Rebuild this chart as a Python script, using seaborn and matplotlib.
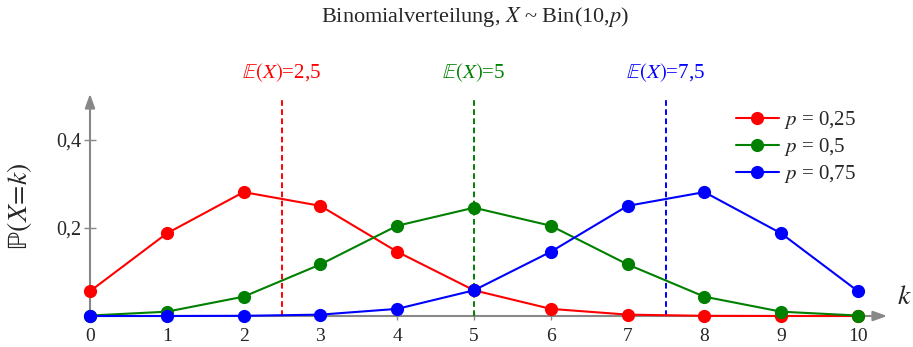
import matplotlib
matplotlib.use("Agg")
import matplotlib.pyplot as plt
import seaborn as sns
import pandas as pd

# Binomial probabilities P(X=k) for n = 10
k_values = [0, 1, 2, 3, 4, 5, 6, 7, 8, 9, 10]
p_025 = [0.0563, 0.1877, 0.2816, 0.2503, 0.1460, 0.0584, 0.0162, 0.0031, 0.0004, 0.0000, 0.0000]
p_050 = [0.0010, 0.0098, 0.0439, 0.1172, 0.2051, 0.2461, 0.2051, 0.1172, 0.0439, 0.0098, 0.0010]
p_075 = [0.0000, 0.0000, 0.0004, 0.0031, 0.0162, 0.0584, 0.1460, 0.2503, 0.2816, 0.1877, 0.0563]
series_labels = [r"$p$ = 0,25", r"$p$ = 0,5", r"$p$ = 0,75"]
expectations = [2.5, 5.0, 7.5]
expectation_labels = [r"$\mathbb{E}(X)$=2,5", r"$\mathbb{E}(X)$=5", r"$\mathbb{E}(X)$=7,5"]
y_ticks = [0.2, 0.4]
y_tick_labels = ["0,2", "0,4"]
colors = ["#ff0000", "#008000", "#0000ff"]

sns.set_theme(style="white")
plt.rcParams["font.family"] = ["Liberation Serif", "DejaVu Serif"]
plt.rcParams["mathtext.fontset"] = "stix"

df = pd.concat(
    [pd.DataFrame({"k": k_values, "prob": vals, "series": lab})
     for vals, lab in zip([p_025, p_050, p_075], series_labels)],
    ignore_index=True,
)

fig = plt.figure(figsize=(9.13, 3.47), dpi=100)
ax = fig.add_axes([0.07334, 0.02594, 0.91689, 0.7228])
xmin, xmax, ymin, ymax = -0.3, 10.6, -0.05, 0.52

# expectation markers
for ex, lab, c in zip(expectations, expectation_labels, colors):
    ax.plot([ex, ex], [0, 0.498], color=c, lw=1.4, ls=(0, (2.9, 1.8)), zorder=1)
    ax.text(ex, 0.552, lab, color=c, ha="center", va="center", fontsize=15)

# axes with arrow heads
axis_grey = "#888888"
ax.annotate("", xy=(10.38, 0), xytext=(0, 0),
            arrowprops=dict(arrowstyle="-|>,head_length=0.7,head_width=0.25",
                            color=axis_grey, lw=1.5, shrinkA=0, shrinkB=0), zorder=0.5)
ax.annotate("", xy=(0, 0.505), xytext=(0, 0),
            arrowprops=dict(arrowstyle="-|>,head_length=0.7,head_width=0.25",
                            color=axis_grey, lw=1.5, shrinkA=0, shrinkB=0), zorder=0.5)

sns.lineplot(data=df, x="k", y="prob", hue="series", hue_order=series_labels,
             palette=colors, marker="o", markersize=9.5, markeredgewidth=0,
             linewidth=1.5, ax=ax, zorder=3)

ax.set_xlim(xmin, xmax)
ax.set_ylim(ymin, ymax)
for s in ax.spines.values():
    s.set_visible(False)
ax.spines["left"].set_position(("data", 0))
ax.spines["bottom"].set_position(("data", 0))

ax.set_xticks(k_values)
ax.set_xticklabels([str(v) for v in k_values], fontsize=14)
ax.set_yticks(y_ticks)
ax.set_yticklabels(y_tick_labels, fontsize=14.5)
ax.tick_params(axis="y", direction="inout", length=8.5, width=1.0, color=axis_grey, pad=1.8, left=True)
ax.tick_params(axis="x", direction="inout", length=6, width=1.0, color=axis_grey, pad=5.5, bottom=True)

ax.set_xlabel("")
ax.set_ylabel(r"$\mathrm{\mathbb{P}}(X\!=\!k)$", fontsize=20)
ax.yaxis.set_label_coords(-0.0395, 0.526)

ax.text(10.6, 0.042, r"$k$", fontsize=20, ha="center", va="center")

leg = ax.legend(loc="upper left", bbox_to_anchor=(0.789, 0.946), frameon=False,
                fontsize=15, handlelength=2.07, handletextpad=0.25, labelspacing=0.25,
                borderaxespad=0)

fig.text(0.52, 1 - 17 / 347, r"Binomialverteilung, $X$ ~ Bin(10,$p$)",
         ha="center", va="center", fontsize=16)

fig.savefig("out.png", dpi=100)
